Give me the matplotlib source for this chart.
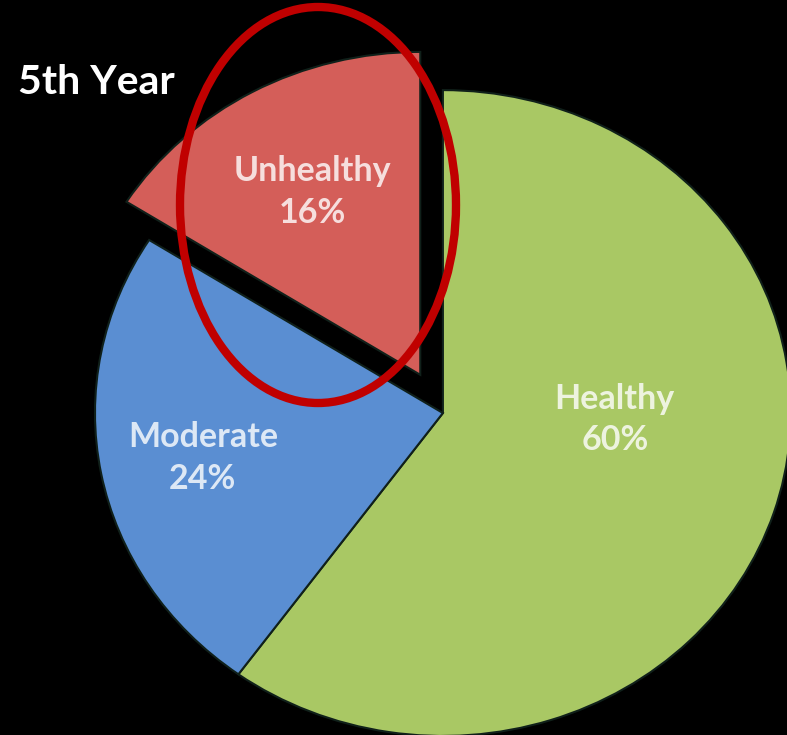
import matplotlib.pyplot as plt
from matplotlib.patches import Ellipse

# share of students by health status in the fifth year
categories = ["Healthy", "Moderate", "Unhealthy"]
shares = [60, 24, 16]
colors = ["#A9C864", "#5A8ED2", "#D45E59"]
explode = [0.0, 0.0, 0.135]

fig = plt.figure(figsize=(7.87, 7.35), dpi=100, facecolor="black")
ax = fig.add_axes([0, 0, 1, 1])
ax.set_facecolor("black")

wedges, _ = ax.pie(
    shares,
    colors=colors,
    explode=explode,
    startangle=90,
    counterclock=False,
    radius=1.0,
    wedgeprops=dict(edgecolor="#10201a", linewidth=1.5),
)

# the slide stretches the pie a little wider than tall
ax.set_aspect("auto")
ax.set_xlim(-1.273, 0.989)
ax.set_ylim(-0.997, 1.279)
ax.axis("off")

label_pos = {
    "Healthy": (0.494, -0.020),
    "Moderate": (-0.690, -0.140),
    "Unhealthy": (-0.376, 0.685),
}
for name, value in zip(categories, shares):
    x, y = label_pos[name]
    ax.text(x, y, f"{name}\n{value}%", ha="center", va="center",
            fontsize=24.5, fontweight="bold", family="Lato",
            color="white", alpha=0.8, linespacing=1.38)

fig.text(18 / 787, 1 - 82 / 735, "5th Year", ha="left", va="center",
         fontsize=29.5, fontweight="bold", family="Lato", color="white")

# highlight ring around the unhealthy slice
ring = Ellipse((318 / 787, 1 - 205 / 735), 276 / 787, 396 / 735,
               transform=fig.transFigure, fill=False,
               edgecolor="#C00000", linewidth=6)
fig.patches.append(ring)

fig.savefig("out.png", dpi=100, facecolor="black")
